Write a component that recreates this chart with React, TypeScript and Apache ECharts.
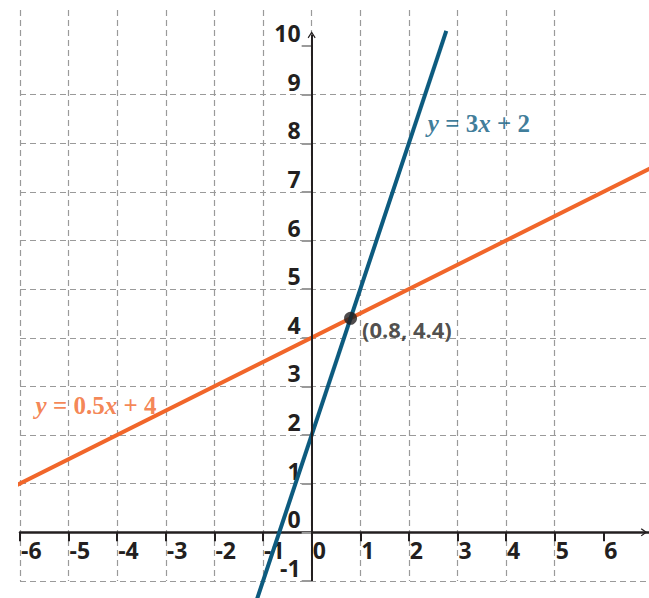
import React, { useEffect, useRef } from "react";
import * as echarts from "echarts";

// Axis tick values
const xTickValues = [-6, -5, -4, -3, -2, -1, 0, 1, 2, 3, 4, 5, 6];
const yTickValues = [-1, 0, 1, 2, 3, 4, 5, 6, 7, 8, 9, 10];

// Line y = 3x + 2 (end points)
const blueLineX = [-1.2, 2.77];
const blueLineY = [-1.6, 10.31];

// Line y = 0.5x + 4
const orangeLineX = [-6.15, 7.0];
const orangeLineY = [0.93, 7.5];

// Intersection point
const pointX = [0.8];
const pointY = [4.4];
const pointLabel = "(0.8, 4.4)";

// Equation label anchors (data coordinates)
const blueLabelPos = [2.39, 8.41];
const orangeLabelPos = [-5.68, 2.6];

// Y-axis line extent
const yAxisLineFrom = [0, -1];
const yAxisLineTo = [0, 10.23];

const BLUE = "#0d5b7f";
const ORANGE = "#f1662a";
const DARK = "#231f20";
const CHEVRON = "path://M0,0 L5,7 L3.8,8 L0,2.6 L-3.8,8 L-5,7 Z";

export default function App() {
  const ref = useRef<HTMLDivElement>(null);

  useEffect(() => {
    if (!ref.current) return;
    const chart = echarts.init(ref.current, null, { renderer: "svg" });

    const serif = { fontFamily: "Liberation Serif", fontWeight: "bold", fontSize: 25 };
    const eqRich = (color: string) => ({
      i: { ...serif, fontStyle: "italic", color },
      n: { ...serif, color },
    });

    const labelFont = {
      color: DARK,
      fontFamily: "Open Sans",
      fontWeight: "bold",
      fontSize: 23,
    };

    chart.setOption({
      animation: false,
      grid: { left: 20, right: 0, top: 10, bottom: 17, containLabel: false, outerBoundsMode: "none" },
      xAxis: {
        type: "value",
        min: -6,
        max: 6.94,
        interval: 1,
        position: "bottom",
        offset: 0,
        axisLine: {
          show: true,
          onZero: false,
          lineStyle: { color: DARK, width: 2.5 },
          symbol: ["none", CHEVRON],
          symbolSize: [8, 8],
          symbolOffset: [0, -5],
        },
        axisTick: {
          show: true,
          inside: false,
          length: 9,
          lineStyle: { color: DARK, width: 2 },
          customValues: xTickValues,
        },
        axisLabel: {
          show: true,
          customValues: xTickValues,
          align: "left",
          verticalAlign: "middle",
          margin: 18,
          padding: [0, 0, 0, 1],
          ...labelFont,
        },
        splitLine: {
          show: true,
          showMaxLine: false,
          lineStyle: { color: "#9a9a9a", width: 1.2, type: [6, 4] },
        },
      },
      yAxis: {
        type: "value",
        min: -1,
        max: 10.74,
        interval: 1,
        position: "left",
        offset: 0,
        axisLine: {
          show: false,
          onZero: false,
        },
        axisTick: {
          show: true,
          inside: false,
          length: 10,
          lineStyle: { color: "#9a9a9a", width: 2 },
          customValues: yTickValues,
        },
        axisLabel: {
          show: true,
          customValues: yTickValues,
          align: "right",
          verticalAlign: "bottom",
          lineHeight: 26,
          margin: 11,
          ...labelFont,
        },
        splitLine: {
          show: true,
          showMinLine: true,
          showMaxLine: false,
          lineStyle: { color: "#9a9a9a", width: 1.2, type: [6, 4] },
        },
      },
      series: [
        {
          type: "line",
          name: "y-axis",
          data: [],
          silent: true,
          markLine: {
            silent: true,
            animation: false,
            symbol: ["none", CHEVRON],
            symbolSize: [8, 7],
            label: { show: false },
            lineStyle: { color: DARK, width: 2, type: "solid" },
            emphasis: { disabled: true },
            data: [[{ coord: yAxisLineFrom }, { coord: yAxisLineTo }]],
          },
        },
        {
          type: "line",
          name: "y = 0.5x + 4",
          data: orangeLineX.map((x, i) => [x, orangeLineY[i]]),
          showSymbol: false,
          clip: false,
          lineStyle: { color: ORANGE, width: 4 },
          itemStyle: { color: ORANGE },
          z: 3,
        },
        {
          type: "line",
          name: "y = 3x + 2",
          data: blueLineX.map((x, i) => [x, blueLineY[i]]),
          showSymbol: false,
          clip: false,
          lineStyle: { color: BLUE, width: 4 },
          itemStyle: { color: BLUE },
          z: 4,
        },
        {
          type: "scatter",
          name: "intersection",
          data: pointX.map((x, i) => [x, pointY[i]]),
          symbolSize: 13,
          itemStyle: { color: DARK },
          z: 5,
          label: {
            show: true,
            formatter: pointLabel,
            position: "right",
            distance: 5,
            offset: [0, 11],
            ...labelFont,
            fontSize: 22,
          },
        },
        {
          type: "scatter",
          name: "labels",
          silent: true,
          clip: false,
          symbolSize: 0,
          z: 5,
          data: [
            {
              value: blueLabelPos,
              label: {
                show: true,
                position: "right",
                distance: 0,
                formatter: "{i|y}{n| = 3}{i|x}{n| + 2}",
                rich: eqRich(BLUE),
              },
            },
            {
              value: orangeLabelPos,
              label: {
                show: true,
                position: "right",
                distance: 0,
                formatter: "{i|y}{n| = 0.5}{i|x}{n| + 4}",
                rich: eqRich(ORANGE),
              },
            },
          ],
        },
      ],
    });

    // Place the axes through the origin using the library's own scales
    const origin = chart.convertToPixel({ gridIndex: 0 }, [0, 0]) as number[];
    const bottomLeft = chart.convertToPixel({ gridIndex: 0 }, [-6, -1]) as number[];
    chart.setOption({
      xAxis: { offset: -(bottomLeft[1] - origin[1]) },
      yAxis: { offset: -(origin[0] - bottomLeft[0]) },
    });

    return () => chart.dispose();
  }, []);

  return (
    <div
      ref={ref}
      style={{ position: "fixed", left: 0, top: 0, width: 649, height: 598, background: "#fff" }}
    />
  );
}
